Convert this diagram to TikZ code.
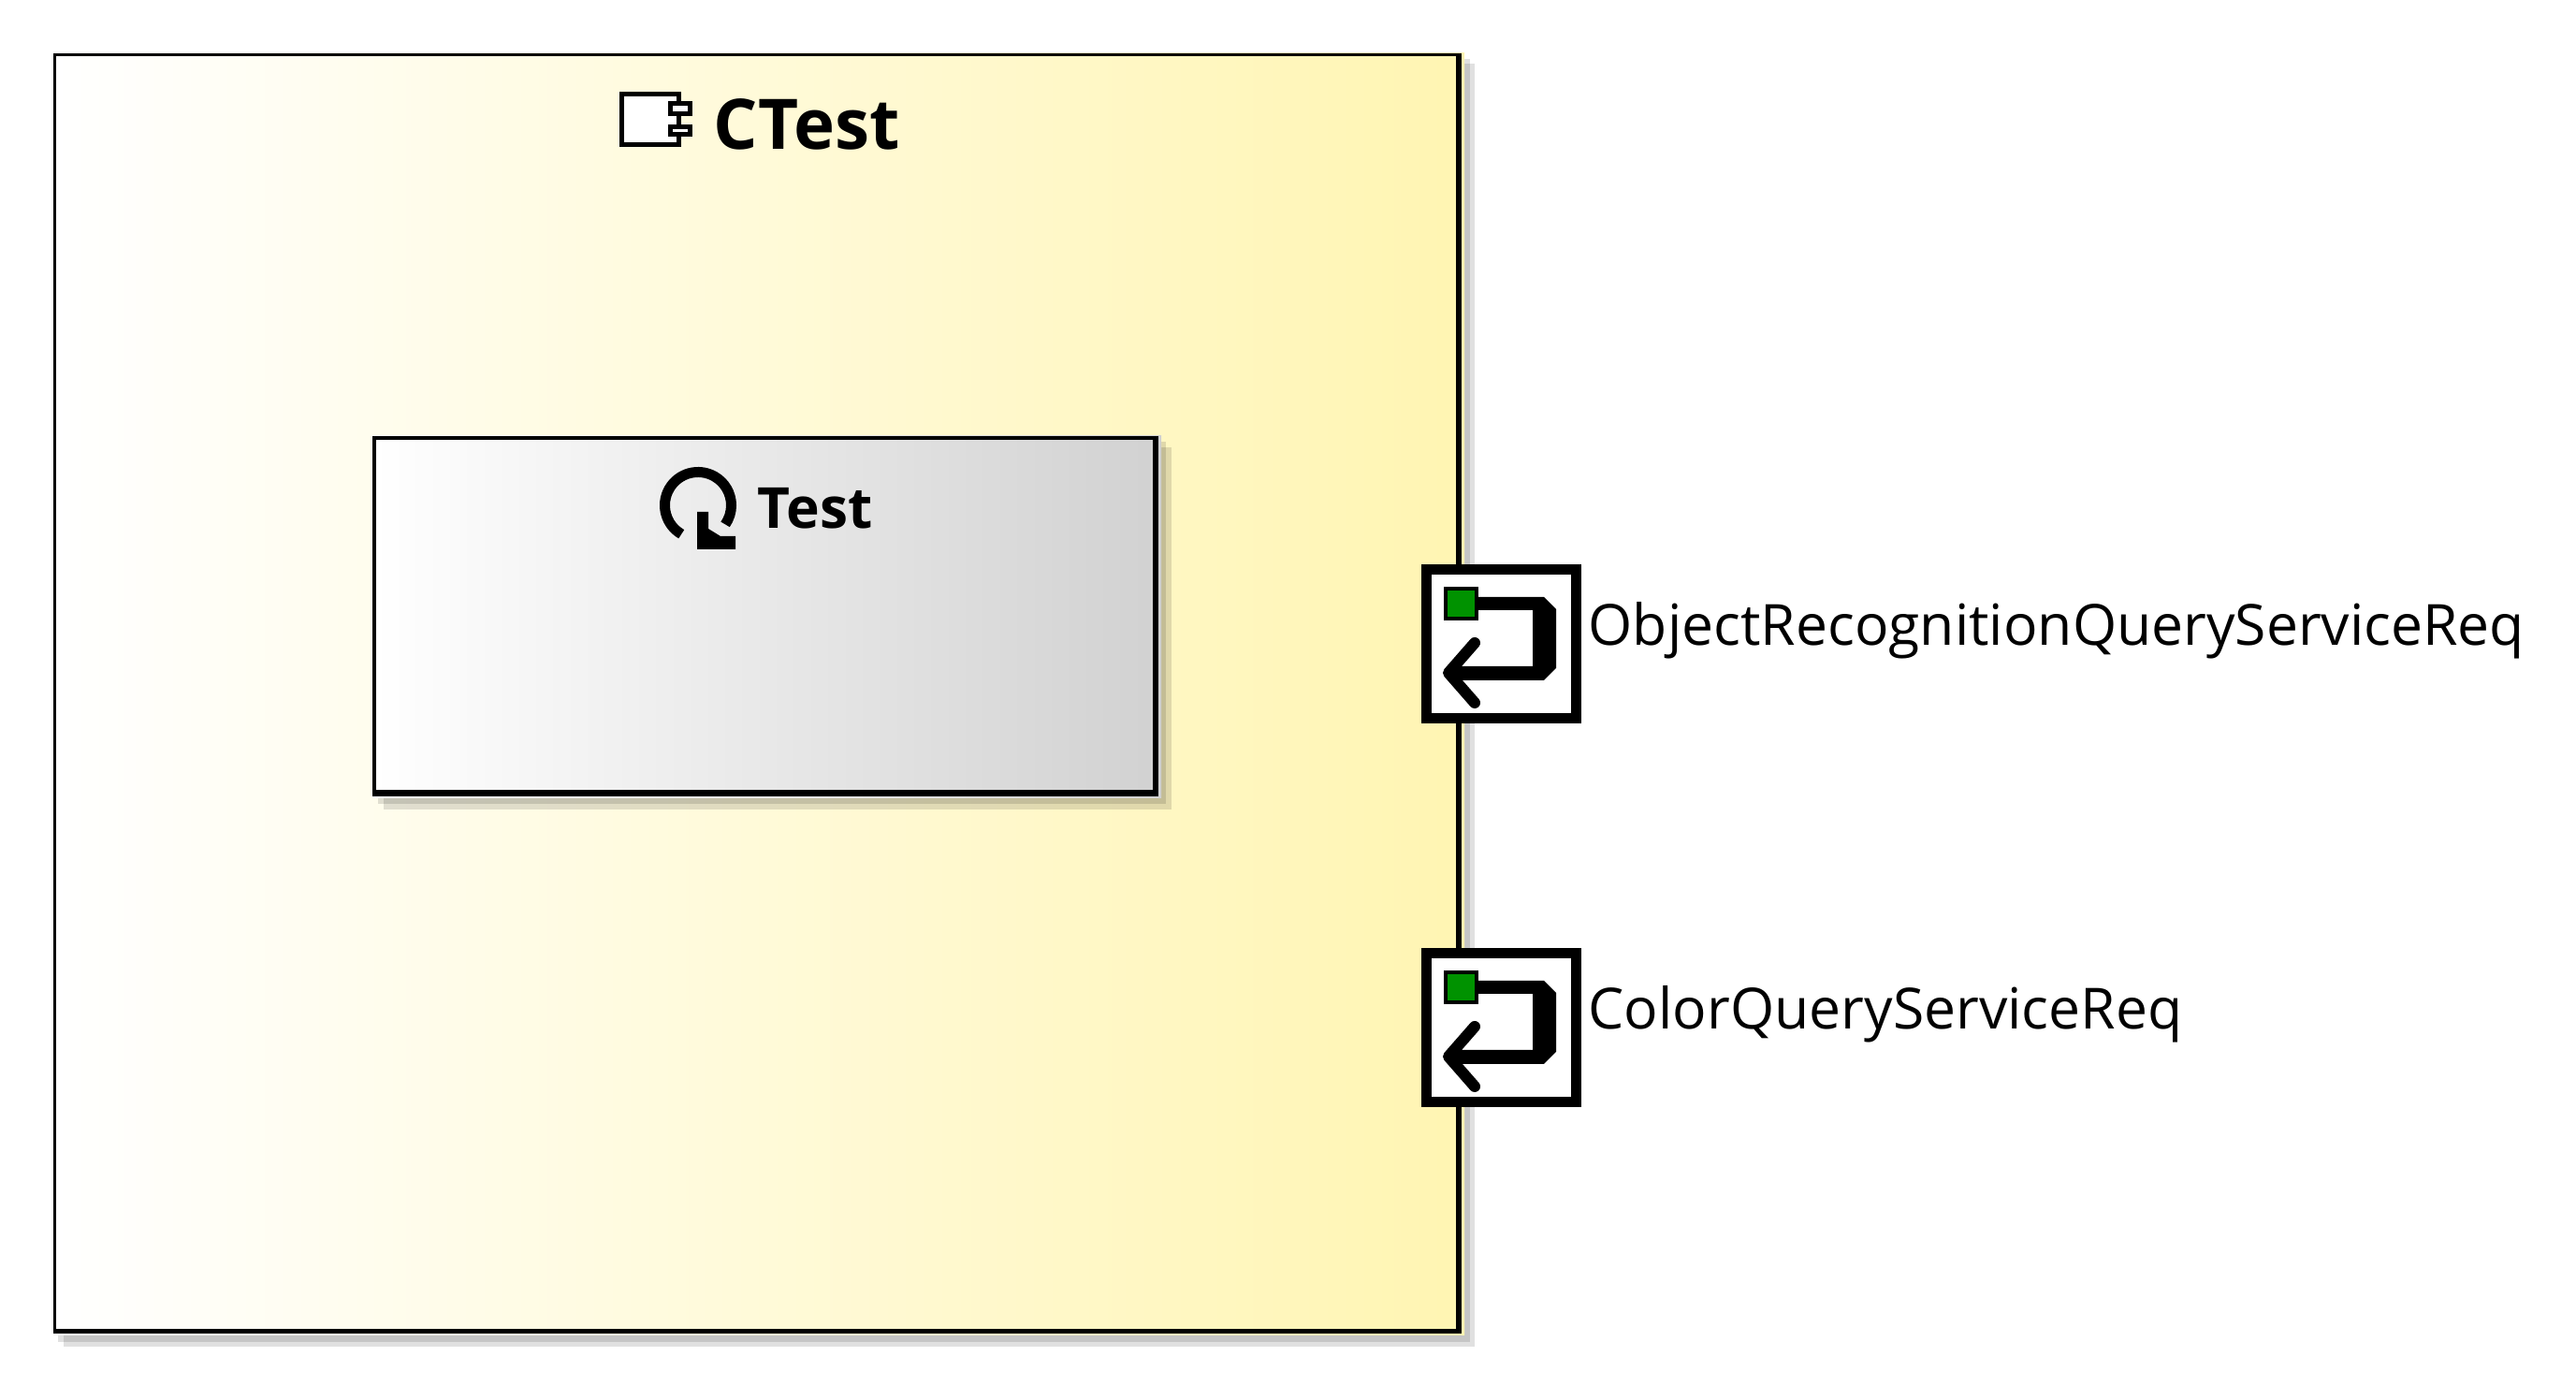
\documentclass[tikz,border=0pt]{standalone}
\usepackage{fontspec}
\setmainfont{Open Sans}
\definecolor{portgreen}{RGB}{0,146,0}
\definecolor{boxyellow}{RGB}{255,245,178}
\tikzset{
  boxtitle/.style={inner sep=0pt,anchor=base west,font=\fontsize{21.2}{25}\selectfont\bfseries},
  subtitle/.style={inner sep=0pt,anchor=base west,font=\fontsize{17.2}{20}\selectfont\bfseries},
  portlabel/.style={inner sep=0pt,anchor=base west,font=\fontsize{17.25}{20}\selectfont},
  iconline/.style={draw=black,line width=0.05cm},
  softshadow/.style={fill=black,opacity=0.12},
}
\begin{document}
\begin{tikzpicture}
	\useasboundingbox(0,0)rectangle(27.53,14.96);
	% outer shadow
	\fill[softshadow](0.62,0.62)rectangle(15.71,14.33);
	\fill[softshadow](0.68,0.57)rectangle(15.76,14.28);
	% outer box
	\shade[left color=white,right color=boxyellow](0.57,0.69)rectangle(15.65,14.39);
	\draw[line width=0.03cm](0.585,0.74)--(0.585,14.375)--(15.59,14.375);
	\draw[line width=0.055cm](0.57,0.735)--(15.59,0.735)--(15.59,14.39);
	% inner shadow
	\fill[softshadow](4.04,6.37)rectangle(12.46,10.24);
	\fill[softshadow](4.10,6.31)rectangle(12.52,10.18);
	% inner box
	\shade[left color=white,right color=black!18](3.98,6.43)rectangle(12.41,10.30);
	\draw[line width=0.04cm](4.00,6.47)--(4.00,10.28)--(12.36,10.28);
	\draw[line width=0.065cm](3.98,6.485)--(12.35,6.485)--(12.35,10.30);
	% titles
	\node[boxtitle](ctest)at(7.62,13.36){CTest};
	\node[subtitle](test)at(8.09,9.31){Test};
	% component icon
	\draw[iconline,fill=white](6.64,13.41)rectangle(7.25,13.95);
	\draw[iconline,fill=white](7.16,13.74)rectangle(7.37,13.85);
	\draw[iconline,fill=white](7.16,13.52)rectangle(7.37,13.60);
	% activity icon
	\draw[line width=0.11cm](7.46,9.56)++(240:0.355)arc[start angle=240,end angle=-35,radius=0.355];
	\fill(7.45,9.49)--(7.57,9.49)--(7.57,9.31)--(7.70,9.23)--(7.86,9.23)--(7.86,9.09)--(7.45,9.09)--cycle;
	% ports
	\foreach \y/\name/\txt in {0/objport/ObjectRecognitionQueryServiceReq,-4.10/colorport/ColorQueryServiceReq}{
		\begin{scope}[yshift=\y cm]
			\draw[line width=0.105cm,fill=white](15.245,7.285)rectangle(16.845,8.875);
			\fill(15.75,8.58)--(16.50,8.58)--(16.63,8.45)--(16.63,7.82)--(16.50,7.69)--(15.50,7.69)--(15.50,7.84)--(16.38,7.84)--(16.38,8.44)--(15.75,8.44)--cycle;
			\draw[line width=0.12cm,line cap=round,line join=round](15.76,8.09)--(15.48,7.77)--(15.76,7.45);
			\draw[line width=0.04cm,fill=portgreen](15.445,8.345)rectangle(15.775,8.665);
			\node[portlabel](\name)at(16.97,8.06){\txt};
		\end{scope}
	}
\end{tikzpicture}
\end{document}
